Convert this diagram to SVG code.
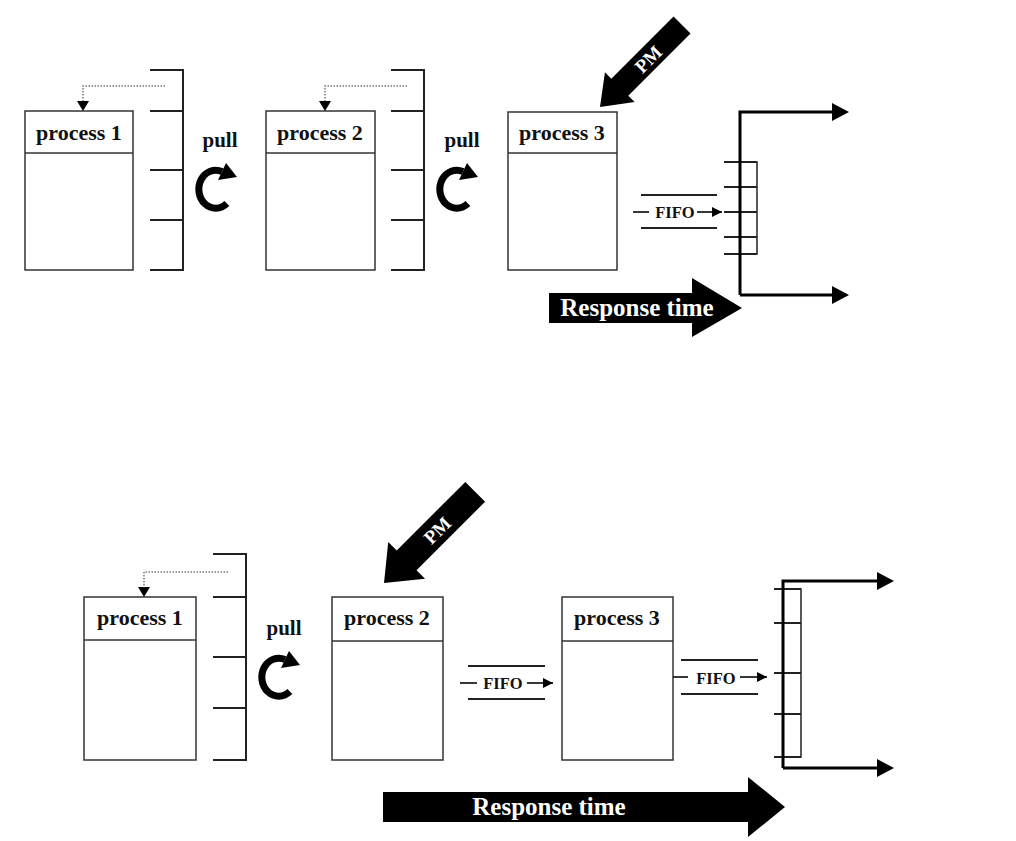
<svg xmlns="http://www.w3.org/2000/svg" width="1016" height="841" viewBox="0 0 1016 841">
<style>
.box{fill:#fff;stroke:#333;stroke-width:1.5}
.div{stroke:#333;stroke-width:1.5}
.br{stroke:#222;stroke-width:2;fill:none}
.dot{stroke:#777;stroke-width:1.5;stroke-dasharray:1.5 1.5;fill:none}
.t{font-family:"Liberation Serif",serif;font-weight:bold;fill:#111}
.w{font-family:"Liberation Serif",serif;font-weight:bold;fill:#fff}
.thick{stroke:#000;stroke-width:3;fill:none}
.ln{stroke:#222;stroke-width:1.8}
</style>
<defs>
<g id="cw">
<path d="M10.9,14.6 A17,19 0 1 1 6,-17.5" fill="none" stroke="#000" stroke-width="7"/>
<polygon points="21,-12 10,-26 2,-9" fill="#000"/>
</g>
<marker id="ah" viewBox="0 0 10 10" refX="10" refY="5" markerWidth="11" markerHeight="10" markerUnits="userSpaceOnUse" orient="auto"><path d="M0,0 L10,5 L0,10 Z" fill="#000"/></marker>
</defs>

<!-- TOP SECTION -->
<g id="top-p1">
<rect class="box" x="25" y="111" width="108" height="159"/>
<line class="div" x1="25" y1="153" x2="133" y2="153"/>
<text class="t" x="79" y="140" font-size="22" text-anchor="middle">process 1</text>
</g>
<g id="top-buf1">
<path class="br" d="M150,70 H183 V270 H150 M150,111 H183 M150,170 H183 M150,220 H183"/>
</g>
<g id="top-pull1">
<text class="t" x="220" y="147" font-size="21" text-anchor="middle">pull</text>
<use href="#cw" x="216" y="189"/>
</g>
<g id="top-p2">
<rect class="box" x="266" y="111" width="109" height="159"/>
<line class="div" x1="266" y1="153" x2="375" y2="153"/>
<text class="t" x="320" y="140" font-size="22" text-anchor="middle">process 2</text>
</g>
<g id="top-buf2">
<path class="br" d="M391,70 H424 V270 H391 M391,111 H424 M391,170 H424 M391,220 H424"/>
</g>
<g id="top-pull2">
<text class="t" x="462" y="147" font-size="21" text-anchor="middle">pull</text>
<use href="#cw" x="457" y="189"/>
</g>
<g id="top-p3">
<rect class="box" x="508" y="112" width="109" height="158"/>
<line class="div" x1="508" y1="153" x2="617" y2="153"/>
<text class="t" x="562" y="140" font-size="22" text-anchor="middle">process 3</text>
</g>
<g id="top-pm" transform="translate(600,107) rotate(-45)">
<polygon points="0,0 28,-21 28,-12 116,-12 116,12 28,12 28,21" fill="#000"/>
<text class="w" x="68" y="7" font-size="19" text-anchor="middle">PM</text>
</g>
<g id="top-fifo">
<line class="ln" x1="641" y1="195" x2="717" y2="195"/>
<line class="ln" x1="641" y1="228" x2="717" y2="228"/>
<line class="ln" x1="633" y1="212" x2="649" y2="212"/>
<text class="t" x="675" y="218" font-size="16.5" text-anchor="middle">FIFO</text>
</g>
<g id="top-outbuf">
<rect x="740" y="162" width="17" height="92" fill="none" stroke="#222" stroke-width="1.5"/>
<path class="ln" d="M724,162 H757 M724,187 H757 M724,212 H757 M724,237 H757 M724,254 H757" fill="none"/>
</g>
<g id="top-rt">
<polygon points="549,293 692,293 692,278 742,308 692,337 692,323 549,323" fill="#000"/>
<text class="w" x="637" y="316" font-size="25" text-anchor="middle">Response time</text>
</g>

<!-- BOTTOM SECTION -->
<g id="bot-p1">
<rect class="box" x="84" y="597" width="112" height="163"/>
<line class="div" x1="84" y1="640" x2="196" y2="640"/>
<text class="t" x="140" y="625" font-size="22" text-anchor="middle">process 1</text>
</g>
<g id="bot-buf1">
<path class="br" d="M213,554 H246 V760 H213 M213,597 H246 M213,657 H246 M213,708 H246"/>
</g>
<g id="bot-pull">
<text class="t" x="284" y="635" font-size="21" text-anchor="middle">pull</text>
<use href="#cw" x="279" y="677"/>
</g>
<g id="bot-p2">
<rect class="box" x="332" y="597" width="111" height="163"/>
<line class="div" x1="332" y1="641" x2="443" y2="641"/>
<text class="t" x="387" y="625" font-size="22" text-anchor="middle">process 2</text>
</g>
<g id="bot-pm" transform="translate(384,583) rotate(-45)">
<polygon points="0,0 32,-26 32,-14 129,-14 129,14 32,14 32,26" fill="#000"/>
<text class="w" x="75" y="7" font-size="19" text-anchor="middle">PM</text>
</g>
<g id="bot-fifo1">
<line class="ln" x1="468" y1="666" x2="545" y2="666"/>
<line class="ln" x1="468" y1="699" x2="545" y2="699"/>
<line class="ln" x1="460" y1="683" x2="477" y2="683"/>
<text class="t" x="503" y="689" font-size="16.5" text-anchor="middle">FIFO</text>
</g>
<g id="bot-p3">
<rect class="box" x="562" y="597" width="111" height="163"/>
<line class="div" x1="562" y1="641" x2="673" y2="641"/>
<text class="t" x="617" y="625" font-size="22" text-anchor="middle">process 3</text>
</g>
<g id="bot-fifo2">
<line class="ln" x1="681" y1="660" x2="758" y2="660"/>
<line class="ln" x1="681" y1="694" x2="758" y2="694"/>
<line class="ln" x1="673" y1="677" x2="688" y2="677"/>
<text class="t" x="716" y="684" font-size="16.5" text-anchor="middle">FIFO</text>
</g>
<g id="bot-outbuf">
<rect x="783" y="589" width="18" height="168" fill="none" stroke="#222" stroke-width="1.5"/>
<path class="ln" d="M774,589 H801 M774,623 H801 M774,673 H801 M774,714 H801 M774,757 H801" fill="none"/>
</g>
<g id="bot-rt">
<polygon points="383,792 748,792 748,777 785,807 748,837 748,822 383,822" fill="#000"/>
<text class="w" x="549" y="815" font-size="25" text-anchor="middle">Response time</text>
</g>

<g id="connectors">
<path class="dot" d="M165,86 H83 V102"/>
<polygon points="77,101 89,101 83,111" fill="#000"/>
<path class="dot" d="M407,86 H325 V102"/>
<polygon points="319,101 331,101 325,111" fill="#000"/>
<path class="dot" d="M228,572 H144 V588"/>
<polygon points="138,587 150,587 144,597" fill="#000"/>
<line class="ln" x1="697" y1="212" x2="722" y2="212" marker-end="url(#ah)"/>
<line class="ln" x1="527" y1="683" x2="553" y2="683" marker-end="url(#ah)"/>
<line class="ln" x1="740" y1="677" x2="767" y2="677" marker-end="url(#ah)"/>
<path class="thick" d="M740,295 V112 H834"/>
<polygon points="832,103 849,112 832,121" fill="#000"/>
<path class="thick" d="M740,295 H834"/>
<polygon points="832,286 849,295 832,304" fill="#000"/>
<path class="thick" d="M783,768 V581 H879"/>
<polygon points="877,572 894,581 877,590" fill="#000"/>
<path class="thick" d="M783,768 H879"/>
<polygon points="877,759 894,768 877,777" fill="#000"/>
</g>
</svg>
